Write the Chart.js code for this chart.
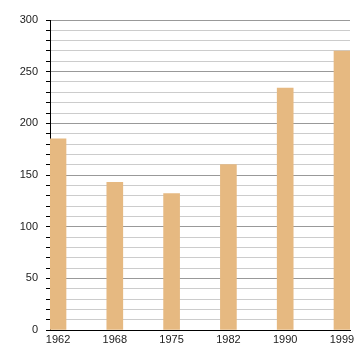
<!DOCTYPE html>
<html>
<head>
<meta charset="utf-8">
<script src="https://cdn.jsdelivr.net/npm/chart.js@4/dist/chart.umd.min.js"></script>
<style>
html,body{margin:0;padding:0;background:#fff;}
#wrap{width:360px;height:360px;position:relative;}
</style>
</head>
<body>
<div id="wrap"><canvas id="c"></canvas></div>
<script>
const years = ["1962", "1968", "1975", "1982", "1990", "1999"];
const values = [185, 143, 132, 160, 234, 270];
const yTicks = [0, 50, 100, 150, 200, 250, 300];

const points = values.map((v, i) => ({ x: i, y: v }));

new Chart(document.getElementById('c'), {
  type: 'bar',
  data: {
    datasets: [{
      data: points,
      backgroundColor: '#e6b981',
      borderWidth: 0,
      barThickness: 16
    }]
  },
  options: {
    responsive: true,
    maintainAspectRatio: false,
    animation: false,
    events: [],
    layout: { padding: { left: 0, right: 10, top: 20, bottom: 0 } },
    plugins: { legend: { display: false }, tooltip: { enabled: false } },
    scales: {
      x: {
        type: 'linear',
        offset: false,
        min: -0.141,
        max: 5.141,
        afterBuildTicks: axis => { axis.ticks = years.map((_, i) => ({ value: i })); },
        afterFit: axis => { axis.height = 30; },
        grid: { display: false, drawTicks: false, offset: false },
        border: { display: true, color: '#000', width: 1 },
        ticks: {
          padding: 3,
          color: '#222',
          font: { family: 'Liberation Sans', size: 11 },
          maxRotation: 0,
          autoSkip: false,
          callback: v => years[v]
        }
      },
      y: {
        min: 0,
        max: 300,
        afterFit: axis => { axis.width = 50; },
        grid: {
          color: ctx => (ctx.tick && yTicks.includes(ctx.tick.value)) ? '#999' : '#ccc',
          tickColor: '#000',
          tickLength: 4,
          lineWidth: 1
        },
        border: { display: true, color: '#000', width: 1 },
        ticks: {
          stepSize: 10,
          padding: 8,
          color: '#222',
          font: { family: 'Liberation Sans', size: 11 },
          autoSkip: false,
          callback: v => yTicks.includes(v) ? String(v) : ''
        }
      }
    }
  }
});
</script>
</body>
</html>
